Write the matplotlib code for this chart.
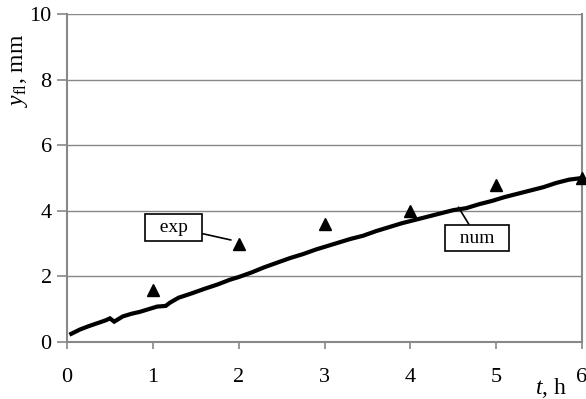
import matplotlib
matplotlib.use("Agg")
import matplotlib.pyplot as plt

plt.rcParams['font.family'] = ['Liberation Serif', 'DejaVu Serif']
plt.rcParams['mathtext.fontset'] = 'custom'
plt.rcParams['mathtext.rm'] = 'Liberation Serif'
plt.rcParams['mathtext.it'] = 'Liberation Serif:italic'

# numerical curve
t_num = [0.05, 0.15, 0.25, 0.35, 0.45, 0.5, 0.55, 0.65, 0.75, 0.85, 0.95, 1.05, 1.15, 1.2, 1.3,
         1.45, 1.6, 1.75, 1.9, 2.0, 2.15, 2.3, 2.45, 2.6, 2.75, 2.9, 3.0, 3.15, 3.3, 3.45,
         3.6, 3.75, 3.9, 4.05, 4.2, 4.35, 4.5, 4.65, 4.8, 4.95, 5.1, 5.25, 5.4, 5.55,
         5.7, 5.85, 6.0]
y_num = [0.25, 0.38, 0.48, 0.57, 0.66, 0.72, 0.62, 0.78, 0.86, 0.92, 1.0, 1.08, 1.1, 1.2, 1.35,
         1.48, 1.62, 1.75, 1.9, 1.98, 2.12, 2.28, 2.42, 2.56, 2.68, 2.82, 2.9, 3.02, 3.14, 3.24,
         3.38, 3.5, 3.62, 3.72, 3.82, 3.92, 4.02, 4.08, 4.2, 4.3, 4.42, 4.52, 4.62, 4.72,
         4.85, 4.95, 5.0]

# experimental points
t_exp = [1, 2, 3, 4, 5, 6]
y_exp = [1.6, 3.0, 3.6, 4.0, 4.8, 5.0]

xticks = [0, 1, 2, 3, 4, 5, 6]
yticks = [0, 2, 4, 6, 8, 10]

fig = plt.figure(figsize=(5.86, 3.99), dpi=100)
ax = fig.add_axes([67/586, 1 - 342/399, (582-67)/586, (342-14)/399])

ax.set_xlim(0, 6)
ax.set_ylim(0, 10)
ax.set_xticks(xticks)
ax.set_yticks(yticks)
ax.yaxis.grid(True, color='#888888', linewidth=1.0)
ax.set_axisbelow(True)

for s in ['left', 'bottom', 'right']:
    ax.spines[s].set_color('#888888')
    ax.spines[s].set_linewidth(1.5)
ax.spines['top'].set_visible(False)

ax.tick_params(axis='both', direction='out', color='#888888', width=1.2,
               labelsize=16, colors='#888888', labelcolor='black')
ax.tick_params(axis='x', length=5, pad=14)
ax.tick_params(axis='y', length=7, pad=4)

ax.plot(t_num, y_num, color='black', linewidth=3.0, solid_joinstyle='miter', zorder=3, clip_on=False)
ax.plot(t_exp, y_exp, linestyle='none', marker='^', color='black', markersize=9, zorder=4, clip_on=False)

box = dict(boxstyle='square,pad=0.25', facecolor='white', edgecolor='black', linewidth=1.2)
ax.annotate('\u2002exp\u2002', xy=(1.91, 3.11), xytext=(1.24, 3.5), fontsize=14, ha='center', va='center',
            bbox=box, arrowprops=dict(arrowstyle='-', color='black', linewidth=1.2, shrinkA=0, shrinkB=0))
ax.annotate('\u2002num\u2002', xy=(4.56, 4.11), xytext=(4.78, 3.17), fontsize=14, ha='center', va='center',
            bbox=box, arrowprops=dict(arrowstyle='-', color='black', linewidth=1.2, shrinkA=0, shrinkB=0))

fig.text(20/586, 1 - 70/399, r'$y_{\mathrm{fl}}$, mm', rotation=90, fontsize=17, ha='center', va='center')
fig.text(551/586, 1 - 388/399, r'$t$, h', fontsize=17, ha='center', va='center')

fig.savefig('out.png', dpi=100)
